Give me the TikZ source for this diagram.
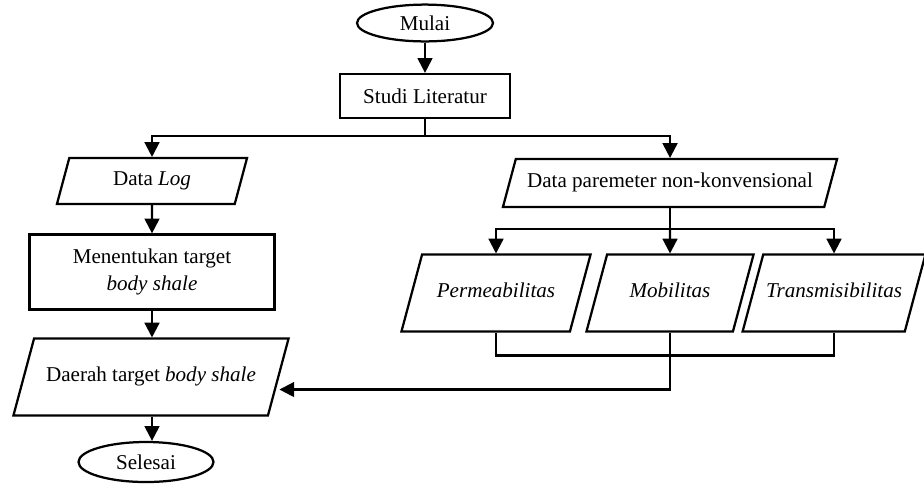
\documentclass[tikz,border=0pt]{standalone}
\usepackage{fontspec}
\setmainfont{Liberation Serif}
\usetikzlibrary{shapes.geometric, arrows.meta, calc}

\tikzset{
  terminal/.style={draw, ellipse, line width=1.6pt, minimum width=3.4cm, minimum height=0.92cm, inner sep=0pt},
  proses/.style={draw, rectangle, line width=1.6pt, align=center, inner sep=2pt},
  % jajar genjang: tinggi diatur lewat inner ysep agar sudutnya tetap
  io/.style={draw, trapezium, trapezium left angle=75, trapezium right angle=105,
    trapezium stretches body=true, line width=1.6pt, inner xsep=2pt,
    text height=11pt, text depth=4pt, align=center},
  io tinggi/.style={io, inner ysep=19.8pt},
  panah/.style={-{Triangle[width=0.37cm,length=0.37cm]}, line width=1.6pt},
  garis/.style={line width=1.6pt}
}

\begin{document}
\begin{tikzpicture}[x=0.025cm, y=-0.025cm, font=\fontsize{15}{19}\selectfont]
    \useasboundingbox (0,0) rectangle (924,483);

    % alur utama (kiri)
    \node[terminal] (mulai) at (425,23) {Mulai};
    \node[proses, minimum width=4.25cm, minimum height=1.1cm] (studi) at (425,96) {Studi Literatur};
    \node[io, inner ysep=8.8pt, minimum width=4.75cm] (log) at (152,181) {Data \textit{Log}};
    \node[proses, minimum width=6.125cm, minimum height=1.875cm] (tentukan) at (152,272) {Menentukan target\\\textit{body shale}};
    \node[io tinggi, minimum width=6.875cm] (daerah) at (151,377) {Daerah target \textit{body shale}};
    \node[terminal, minimum width=3.375cm, minimum height=1cm] (selesai) at (146,462) {Selesai};

    % parameter non-konvensional (kanan)
    \node[io, inner ysep=9.5pt, minimum width=8.35cm] (param) at (670,183) {Data paremeter non-konvensional};
    \node[io tinggi, minimum width=4.725cm] (perm) at (496,293) {\textit{Permeabilitas}};
    \node[io tinggi, minimum width=4.175cm] (mob) at (670,293) {\textit{Mobilitas}};
    \node[io tinggi, minimum width=4.3cm] (trans) at (834,293) {\textit{Transmisibilitas}};

    % panah
    \draw[panah] (mulai) -- (studi);
    \draw[garis] (studi.south) -- ++(0,17) coordinate (cabang1);
    \draw[panah] (cabang1) -| (log.north);
    \draw[panah] (cabang1) -| (param.north);
    \draw[panah] (log) -- (tentukan);
    \draw[panah] (tentukan) -- (tentukan.south |- daerah.north);
    \draw[panah] (daerah.south -| tentukan.south) -- (tentukan.south |- selesai.north);

    \draw[garis] (param.south) -- ++(0,21) coordinate (cabang2);
    \draw[panah] (cabang2) -| (perm.north);
    \draw[panah] (cabang2) -- (mob.north);
    \draw[panah] (cabang2) -| (trans.north);

    \draw[garis] (perm.south) -- ++(0,23) coordinate (gabung) -| (trans.south);
    \draw[panah] (mob.south) -- ++(0,57) coordinate (balik) -- (balik -| daerah.east);
\end{tikzpicture}
\end{document}
